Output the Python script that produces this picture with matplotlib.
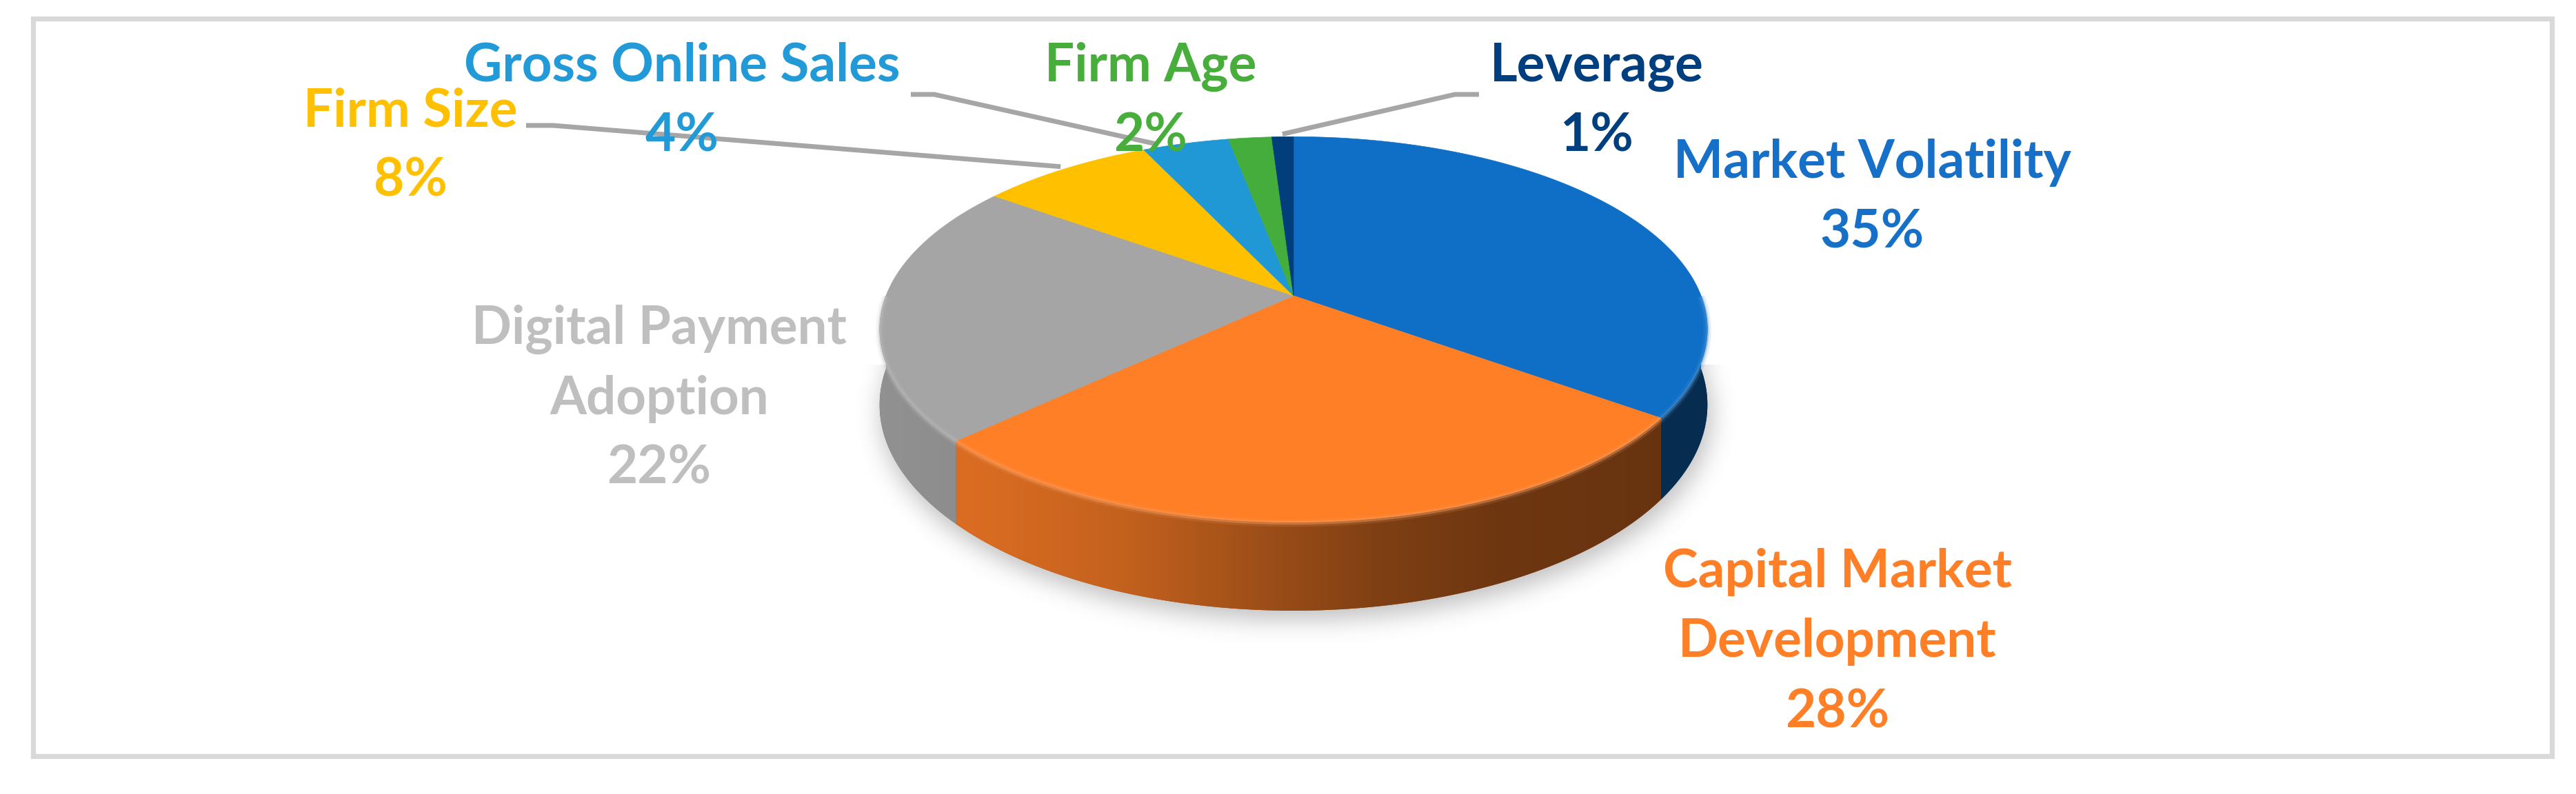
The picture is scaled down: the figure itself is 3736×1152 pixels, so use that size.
import numpy as np
import matplotlib
matplotlib.use("Agg")
import matplotlib.pyplot as plt
from matplotlib.path import Path
from matplotlib.patches import Polygon, Rectangle
from matplotlib.colors import to_rgb

# ===================
# Data
# ===================
categories = [
    "Market Volatility",
    "Capital Market\nDevelopment",
    "Digital Payment\nAdoption",
    "Firm Size",
    "Gross Online Sales",
    "Firm Age",
    "Leverage",
]
shares = [35, 28, 22, 8, 4, 2, 1]
slice_colors = ["#0F6FC6", "#FF7F27", "#A5A5A5", "#FFC000", "#2198D6", "#45AD3B", "#003E7C"]
text_colors = ["#1670C8", "#FF7F27", "#BFBFBF", "#FFC000", "#229AD8", "#47AE3C", "#003F7F"]

# ===================
# Layout (pixels, y down)
# ===================
W, H = 3736, 1152
cx, cy = 1876, 429          # apex of the pie
rx, ry = 591, 271           # radii of the top face
persp = 0.175               # perspective strength
depth = 106                 # thickness of the pie

# x centre and first baseline of each label
label_pos = [(2715, 258), (2665, 852), (956, 499), (595, 183),
             (989, 118), (1669, 118), (2316, 118)]
line_step = 101.5
# leader lines: elbow points and where on the slice they attach
leaders = {3: ([(763, 182), (802, 182)], 0.5),
           4: ([(1321, 137), (1355, 137)], 0.2),
           6: ([(2145, 137), (2110, 137)], 0.5)}


def proj(theta, z=0.0, r=1.0):
    u, v = r * np.cos(theta), r * np.sin(theta)
    w = 1 + persp * v
    return cx + rx * u / w, cy - ry * v / w + depth * z / w


def box_blur(a, r, axis):
    pad = [(0, 0), (0, 0)]
    pad[axis] = (r + 1, r)
    c = np.cumsum(np.pad(a, pad, mode="edge"), axis=axis)
    n = a.shape[axis]
    hi = np.take(c, np.arange(2 * r + 1, 2 * r + 1 + n), axis)
    lo = np.take(c, np.arange(0, n), axis)
    return (hi - lo) / (2 * r + 1)


def side_shade(x):
    t = (x - (cx - 600)) / 1200.0
    return np.interp(t, [0, 0.15, 0.3, 0.45, 0.6, 0.75, 1.0],
                     [0.88, 0.84, 0.76, 0.63, 0.5, 0.43, 0.40])


fig = plt.figure(figsize=(W / 100, H / 100), dpi=100)
ax = fig.add_axes([0, 0, 1, 1])
ax.set_xlim(0, W)
ax.set_ylim(H, 0)
ax.axis("off")

# chart border
ax.add_patch(Rectangle((47.5, 27), 3701 - 47.5, 1097 - 27, fill=False,
                       ec="#D9D9D9", lw=5.2, joinstyle="miter"))

# soft shadow under the pie
sx = np.arange(cx - 720, cx + 740, 3.0)
sy = np.arange(cy + 100, cy + 580, 3.0)
XX, YY = np.meshgrid(sx, sy)
th_all = np.radians(np.linspace(0, 360, 400))
bx, by = proj(th_all, 1.0, 1.005)
outline = Path(np.column_stack([bx + 4, by + 12]))
mask = outline.contains_points(np.column_stack([XX.ravel(), YY.ravel()]))
mask = mask.reshape(XX.shape).astype(float)
for _ in range(3):
    mask = box_blur(mask, 5, 0)
    mask = box_blur(mask, 5, 1)
shadow = np.zeros(mask.shape + (4,))
shadow[..., :3] = 0.45
shadow[..., 3] = mask * 0.45
ax.imshow(shadow, extent=(sx[0], sx[-1], sy[-1], sy[0]), origin="upper",
          interpolation="bilinear", zorder=1)

# slice angles (start at 12 o'clock, clockwise)
cum = np.concatenate([[0], np.cumsum(shares)]) / np.sum(shares) * 360.0
edges = 90.0 - cum

# sides
gx = np.linspace(cx - 620, cx + 620, 600)
shade = side_shade(gx)
for i, col in enumerate(slice_colors):
    hi, lo = min(edges[i], 0.0), max(edges[i + 1], -180.0)
    if lo >= hi:
        continue
    th = np.radians(np.linspace(hi, lo, 200))
    tx, ty = proj(th, 0.0)
    bx, by = proj(th[::-1], 1.0)
    pts = np.column_stack([np.r_[tx, bx], np.r_[ty, by]])
    base = np.array(to_rgb(col))
    ax.add_patch(Polygon(pts, closed=True, fc=base * 0.6, ec="none", zorder=2))
    clip = Polygon(pts, closed=True, fc="none", ec="none", zorder=2)
    ax.add_patch(clip)
    img = np.clip(base[None, None, :] * shade[None, :, None], 0, 1)
    img = np.repeat(img, 2, axis=0)
    im = ax.imshow(img, extent=(gx[0], gx[-1], cy + 500, cy - 100),
                   origin="upper", interpolation="bilinear", zorder=3)
    im.set_clip_path(clip)

# top face
for i, col in enumerate(slice_colors):
    th = np.radians(np.linspace(edges[i], edges[i + 1], 300))
    tx, ty = proj(th, 0.0)
    pts = np.column_stack([np.r_[cx, tx], np.r_[cy, ty]])
    ax.add_patch(Polygon(pts, closed=True, fc=col, ec=col, lw=0.5, zorder=4))

# soft bevel highlight along the front rim
for i, col in enumerate(slice_colors):
    hi, lo = min(edges[i], 0.0), max(edges[i + 1], -180.0)
    if lo >= hi:
        continue
    th = np.radians(np.linspace(hi, lo, 200))
    light = np.array(to_rgb(col)) * 0.7 + 0.3
    hx, hy = proj(th, 0.01)
    ax.plot(hx, hy, color=light, lw=8, alpha=0.15, solid_capstyle="butt", zorder=5)
    ax.plot(hx, hy, color=light, lw=3.5, alpha=0.4, solid_capstyle="butt", zorder=5)

# leader lines
for i, (elbow, frac) in leaders.items():
    ang = np.radians(edges[i] + (edges[i + 1] - edges[i]) * frac)
    ex, ey = proj(ang, 0.0, 1.02)
    xs = [p[0] for p in elbow] + [ex]
    ys = [p[1] for p in elbow] + [ey]
    ax.plot(xs, ys, color="#A6A6A6", lw=5, solid_joinstyle="miter",
            solid_capstyle="butt", zorder=6)

# labels
for i, name in enumerate(categories):
    x0, y0 = label_pos[i]
    lines = name.split("\n") + ["{}%".format(shares[i])]
    for k, line in enumerate(lines):
        ax.text(x0, y0 + k * line_step, line, ha="center", va="baseline",
                fontsize=55, fontweight="bold", family=["Lato", "DejaVu Sans"],
                color=text_colors[i], zorder=7)

fig.savefig("out.png", dpi=100)
